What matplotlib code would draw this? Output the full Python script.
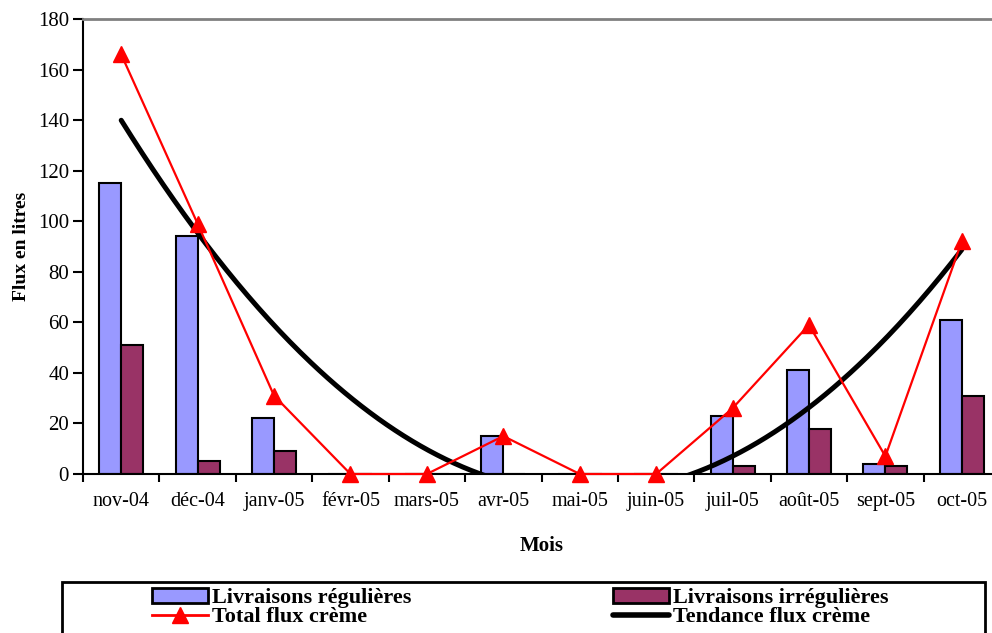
import numpy as np
import matplotlib
matplotlib.use("Agg")
import matplotlib.pyplot as plt
from matplotlib.patches import Rectangle, Patch
from matplotlib.lines import Line2D

plt.rcParams['font.family'] = ['Liberation Serif', 'DejaVu Serif']

mois = ["nov-04", "déc-04", "janv-05", "févr-05", "mars-05", "avr-05",
        "mai-05", "juin-05", "juil-05", "août-05", "sept-05", "oct-05"]
livraisons_regulieres = [115, 94, 22, 0, 0, 15, 0, 0, 23, 41, 4, 61]
livraisons_irregulieres = [51, 5, 9, 0, 0, 0, 0, 0, 3, 18, 3, 31]
total_flux = [166, 99, 31, 0, 0, 15, 0, 0, 26, 59, 7, 92]

BLUE = "#9999FF"
MAROON = "#993366"
RED = "#FF0000"

W, H = 992, 633
fig = plt.figure(figsize=(W / 100, H / 100), dpi=100)
ax = fig.add_axes([83 / W, 1 - 474 / H, 917 / W, (474 - 19) / H])

x = np.arange(len(mois))
bw = 0.288
ax.bar(x - bw / 2, livraisons_regulieres, width=bw, color=BLUE,
       edgecolor="black", linewidth=1.5, zorder=2)
ax.bar(x + bw / 2, livraisons_irregulieres, width=bw, color=MAROON,
       edgecolor="black", linewidth=1.5, zorder=2)

# quadratic trend of the total flow
coef = np.polyfit(x, total_flux, 2)
xs = np.linspace(0, len(mois) - 1, 400)
ax.plot(xs, np.polyval(coef, xs), color="black", linewidth=3.6,
        solid_capstyle="round", zorder=3)

ax.plot(x, total_flux, color=RED, linewidth=1.6, marker="^",
        markersize=11.5, markeredgecolor=RED, zorder=4, clip_on=False)

ax.set_xlim(-0.5, len(mois) - 0.5)
ax.set_ylim(0, 180)
ax.set_yticks(np.arange(0, 181, 20))
ax.set_xticks(x)
ax.set_xticklabels(mois)
ax.set_xticks(np.arange(-0.5, len(mois), 1), minor=True)
ax.tick_params(axis="x", which="major", length=0, pad=13, labelsize=14.5)
ax.tick_params(axis="x", which="minor", length=6, width=1.5, direction="out")
ax.tick_params(axis="y", length=7, width=1.5, direction="out", pad=3,
               labelsize=15)

for side in ("left", "bottom"):
    ax.spines[side].set_linewidth(1.5)
    ax.spines[side].set_color("black")
ax.spines["top"].set_color("#808080")
ax.spines["top"].set_linewidth(2)
ax.spines["right"].set_visible(False)

ax.set_ylabel("Flux en litres", fontsize=14, fontweight="bold", labelpad=6)
ax.set_xlabel("Mois", fontsize=15, fontweight="bold", labelpad=18)

h_reg = Patch(facecolor=BLUE, edgecolor="black", linewidth=2)
h_irr = Patch(facecolor=MAROON, edgecolor="black", linewidth=2)
h_tot = Line2D([], [], color=RED, linewidth=2, marker="^", markersize=12)
h_tend = Line2D([], [], color="black", linewidth=4, solid_capstyle="round")

leg_kw = dict(loc="upper left", frameon=False,
              prop={"size": 16, "weight": "bold"}, handlelength=2.5,
              handleheight=0.65, handletextpad=0.2, labelspacing=-0.05,
              borderpad=0, borderaxespad=0)
fig.legend([h_reg, h_tot], ["Livraisons régulières", "Total flux crème"],
           bbox_to_anchor=(152 / W, 1 - 588 / H), **leg_kw)
fig.legend([h_irr, h_tend], ["Livraisons irrégulières", "Tendance flux crème"],
           bbox_to_anchor=(613 / W, 1 - 588 / H), **leg_kw)

fig.add_artist(Rectangle((62 / W, -0.05), (985 - 62) / W,
                         0.05 + (H - 582) / H, transform=fig.transFigure,
                         fill=False, edgecolor="black", linewidth=2))

fig.savefig("out.png", dpi=100)
